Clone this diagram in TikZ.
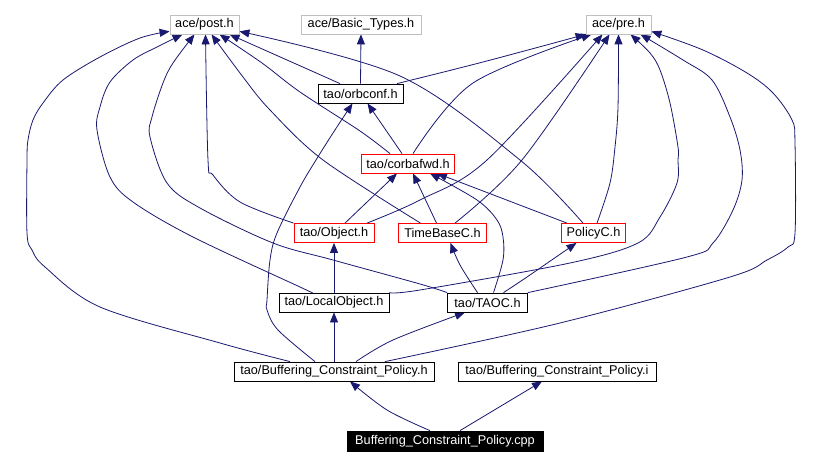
\documentclass[tikz,border=0pt]{standalone}
\usepackage{fontspec}
\setmainfont{Liberation Sans}
\usetikzlibrary{arrows.meta,calc,backgrounds}
\definecolor{edgeblue}{HTML}{191970}
\definecolor{boxgray}{HTML}{BFBFBF}
\begin{document}
\begin{tikzpicture}[x=1pt,y=-1pt,
  box/.style={draw, fill=white, minimum height=19pt, inner sep=0pt, line width=0.8pt,
    font=\fontsize{12.7}{14}\selectfont},
  gbox/.style={box, draw=boxgray},
  kbox/.style={box, draw=black},
  rbox/.style={box, draw=red},
  cbox/.style={box, draw=black, fill=black, text=white},
  dep/.style={draw=edgeblue, line width=0.8pt, -{Triangle[length=10pt,width=8pt]}},
  sm/.style={smooth, tension=0.55}]
\useasboundingbox (0,0) rectangle (822,465);

\node[gbox, minimum width=69pt]  (post)     at (204.5,24.5) {ace/post.h};
\node[gbox, minimum width=120pt] (basic)    at (361,24.5)   {ace/Basic\_Types.h};
\node[gbox, minimum width=65pt]  (pre)      at (618.5,24.5) {ace/pre.h};
\node[kbox, minimum width=85pt]  (orbconf)  at (360.5,93.5) {tao/orbconf.h};
\node[rbox, minimum width=93pt]  (corbafwd) at (408,163.5)  {tao/corbafwd.h};
\node[rbox, minimum width=80pt]  (object)   at (334,233)    {tao/Object.h};
\node[rbox, minimum width=88pt]  (timebase) at (442.5,233)  {TimeBaseC.h};
\node[rbox, minimum width=64pt]  (policy)   at (593.5,233)  {PolicyC.h};
\node[kbox, minimum width=110pt] (local)    at (334,302.5)  {tao/LocalObject.h};
\node[kbox, minimum width=80pt]  (taoc)     at (487.5,302.5){tao/TAOC.h};
\node[kbox, minimum width=200pt] (bcph)     at (334,371.5)  {tao/Buffering\_Constraint\_Policy.h};
\node[kbox, minimum width=198pt] (bcpi)     at (557,371.5)  {tao/Buffering\_Constraint\_Policy.i};
\node[cbox, minimum width=196pt, minimum height=20pt] (cpp) at (445,441) {Buffering\_Constraint\_Policy.cpp};

\begin{scope}[on background layer]
\fill[white] (0,0) rectangle (822,465);
% cpp
\draw[dep] plot[sm] coordinates {([xshift=-15pt]cpp.north) (387,410) ([xshift=16pt]bcph.south)};
\draw[dep] ([xshift=15pt]cpp.north) -- ([xshift=-15pt]bcpi.south);
% bcph
\draw[dep] (bcph.north) -- (local.south);
\draw[dep] plot[sm] coordinates {([xshift=22pt]bcph.north) (393,340) ([xshift=-22.5pt]taoc.south)};
\draw[dep] plot[sm] coordinates {([xshift=51pt]bcph.north) (560,323) (730,277) (767,260) (788,247) (795,233) (795,143) (792,120) (773,93) (747,73) (703,50) ([yshift=3pt]pre.south east)};
\draw[dep] plot[sm] coordinates {([xshift=-44pt]bcph.north) (220,343) (100,307) (45,267) (32,250) (27,233) (27,160) (28,140) (33,120) (43,103) (63,80) (100,57) (140,38) ([yshift=3pt]post.south west)};
\draw[dep] plot[sm] coordinates {([xshift=-19pt]bcph.north) (278,330) (267,310) (267,300) (270,260) (277,233) (300,187) (316,160) (333,133) ([xshift=-8pt]orbconf.south)};
% local
\draw[dep] (local.north) -- (object.south);
\draw[dep] plot[sm] coordinates {([xshift=-22pt]local.north) (300,287) (193,237) (133,202) (110,177) (97,130) (100,107) (110,82) (133,60) (157,47) ([xshift=-22pt]post.south)};
\draw[dep] plot[sm] coordinates {(local.north east) (420,290) (570,263) (638,243) (660,217) (677,183) (678,160) (678,147) (670,103) (660,70) (650,53) ([xshift=12pt]pre.south)};
% taoc
\draw[dep] plot[sm] coordinates {(taoc.north west) (420,284) (333,260) (273,243) (200,208) (167,183) (150,137) (152,117) (163,83) (173,63) ([xshift=-10pt]post.south)};
\draw[dep] plot[sm] coordinates {(taoc.north east) (687,257) (713,243) (733,210) (742,180) (740,150) (730,117) (712,80) (683,60) ([xshift=22pt]pre.south)};
\draw[dep] plot[sm] coordinates {([xshift=6pt]taoc.north) (503,260) (503,237) (497,220) (477,200) ([xshift=22pt]corbafwd.south)};
\draw[dep] plot[sm] coordinates {([xshift=-10pt]taoc.north) (460,265) ([xshift=8pt]timebase.south)};
\draw[dep] plot[sm] coordinates {([xshift=16pt]taoc.north) (527,277) ([xshift=-17pt]policy.south)};
% object
\draw[dep] plot[sm] coordinates {(object.north west) (240,202) (213,175) (208,160) ([xshift=1pt]post.south)};
\draw[dep] plot[sm] coordinates {([xshift=33pt]object.north) (420,200) (487,160) ([xshift=-16pt]pre.south)};
\draw[dep] ([xshift=11pt]object.north) -- ([xshift=-11pt]corbafwd.south);
% timebase
\draw[dep] plot[sm] coordinates {([xshift=-22pt]timebase.north) (323,160) (270,110) (243,77) ([xshift=7pt]post.south)};
\draw[dep] plot[sm] coordinates {([xshift=12.5pt]timebase.north) (522,160) ([xshift=-9pt]pre.south)};
\draw[dep] ([xshift=-6pt]timebase.north) -- ([xshift=5pt]corbafwd.south);
% policy
\draw[dep] plot[sm] coordinates {([xshift=-10.5pt]policy.north) (520,160) (400,76) ([yshift=3pt]post.south east)};
\draw[dep] plot[sm] coordinates {([xshift=3.5pt]policy.north) (610,183) (615,147) (618,107) (pre.south)};
\draw[dep] ([xshift=-26.5pt]policy.north) -- ([xshift=29pt]corbafwd.south);
% corbafwd
\draw[dep] plot[sm] coordinates {([xshift=-18pt]corbafwd.north) (360,131) (300,92) (262,63) ([xshift=15pt]post.south)};
\draw[dep] plot[sm] coordinates {([xshift=5pt]corbafwd.north) (473,83) ([xshift=-27pt]pre.south)};
\draw[dep] ([xshift=-6pt]corbafwd.north) -- ([xshift=7pt]orbconf.south);
% orbconf
\draw[dep] ([xshift=-20.5pt]orbconf.north) -- ([xshift=25pt]post.south);
\draw[dep] plot[sm] coordinates {([xshift=36.5pt]orbconf.north) (483,62) (pre.south west)};
\draw[dep] (orbconf.north) -- (basic.south);
\end{scope}
\end{tikzpicture}
\end{document}
